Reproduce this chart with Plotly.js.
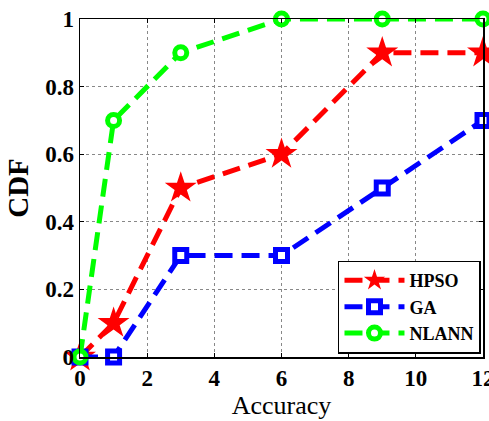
<!DOCTYPE html>
<html><head><meta charset="utf-8">
<script src="https://cdn.plot.ly/plotly-3.0.1.min.js"></script>
<style>html,body{margin:0;padding:0;background:#fff}</style>
</head><body><div id="chart" style="width:489px;height:421px"></div>
<script>
const accuracy = [0, 1, 3, 6, 9, 12];
const hpso = [0, 0.1, 0.5, 0.6, 0.9, 0.9];
const ga = [0, 0, 0.3, 0.3, 0.5, 0.7];
const nlann = [0, 0.7, 0.9, 1, 1, 1];
const xTicks = [0, 2, 4, 6, 8, 10, 12];
const yTicks = [0, 0.2, 0.4, 0.6, 0.8, 1];
const yTickText = ['0', '0.2', '0.4', '0.6', '0.8', '1'];

const fam = 'Liberation Serif, Times New Roman, serif';
const dashPat = '18px,9px';
const traces = [
  {x: accuracy, y: hpso, name: 'HPSO', legendgroup: 'a', mode: 'lines+markers', cliponaxis: false,
   line: {color: '#ff0000', width: 5, dash: dashPat},
   marker: {symbol: 'star', size: 24, color: '#ff0000', line: {width: 0}}},
  {x: accuracy, y: ga, name: 'GA', legendgroup: 'b', mode: 'lines+markers', cliponaxis: false,
   line: {color: '#0000ff', width: 5, dash: dashPat},
   marker: {symbol: 'square', size: 12, color: '#ffffff', line: {color: '#0000ff', width: 5}}},
  {x: accuracy, y: nlann, name: 'NLANN', legendgroup: 'c', mode: 'lines+markers', cliponaxis: false,
   line: {color: '#00ff00', width: 5, dash: dashPat},
   marker: {symbol: 'circle', size: 12, color: '#ffffff', line: {color: '#00ff00', width: 5}}}
];
const axisCommon = {
  showline: true, linecolor: '#000', linewidth: 1.5, mirror: 'ticks',
  ticks: 'inside', ticklen: 4, tickcolor: '#000',
  showgrid: true, gridcolor: '#888', griddash: 'dot', gridwidth: 1,
  zeroline: false, ticklabeloverflow: 'allow',
  tickfont: {family: fam, size: 23, weight: 'bold', color: '#000'}
};
const layout = {
  width: 489, height: 421,
  margin: {l: 80, r: 6, t: 19, b: 64},
  paper_bgcolor: '#fff', plot_bgcolor: '#fff',
  showlegend: true,
  xaxis: Object.assign({}, axisCommon, {range: [0, 12], tickvals: xTicks,
    title: {text: 'Accuracy', font: {family: fam, size: 26, color: '#000'}, standoff: 2}}),
  yaxis: Object.assign({}, axisCommon, {range: [0, 1], tickvals: yTicks, ticktext: yTickText,
    title: {text: 'CDF', font: {family: fam, size: 29, weight: 'bold', color: '#000'}, standoff: 8}}),
  legend: {x: 0.995, xanchor: 'right', y: 0.01, yanchor: 'bottom', bgcolor: '#fff',
    bordercolor: '#000', borderwidth: 1.5,
    font: {family: fam, size: 18, weight: 'bold', color: '#000'},
    tracegroupgap: 5, itemwidth: 60, traceorder: 'normal'}
};
Plotly.newPlot('chart', traces, layout, {displayModeBar: false, staticPlot: true});
</script></body></html>
